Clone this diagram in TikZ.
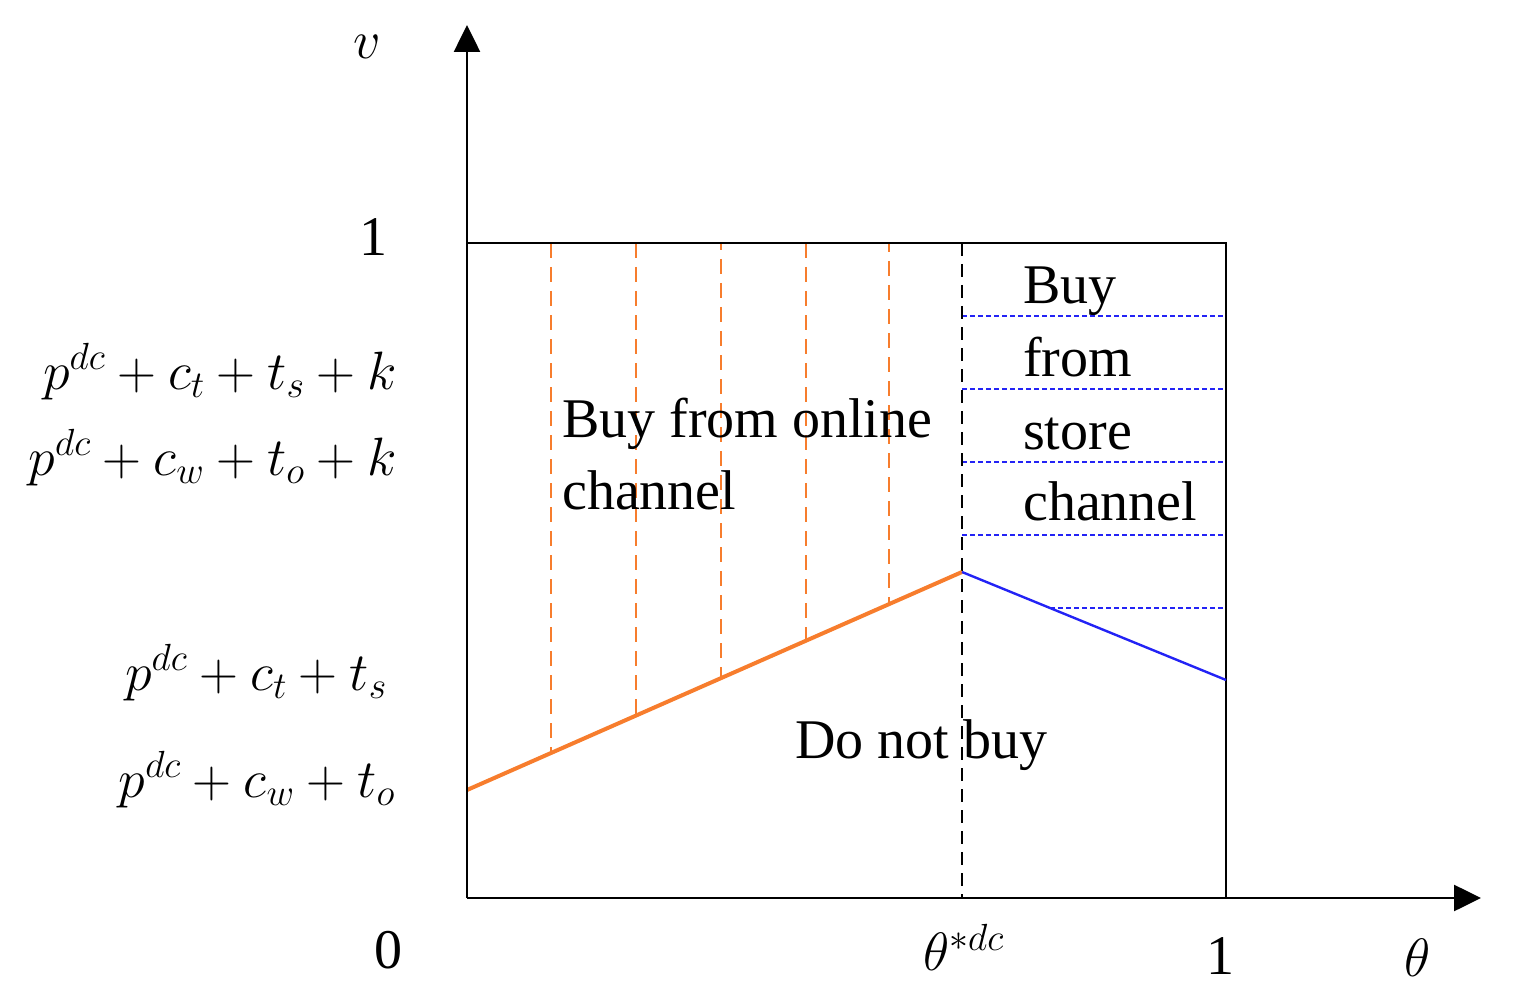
\RequirePackage{fix-cm}
\documentclass[tikz,border=0pt]{standalone}
\usepackage{fontspec}
\setmainfont{Liberation Serif}
\usetikzlibrary{arrows.meta}
\definecolor{org}{RGB}{247,125,45}
\definecolor{blu}{RGB}{35,35,245}
\tikzset{
  axis/.style={line width=2.6pt,-{Triangle[length=27pt,width=26pt]}},
  frame/.style={line width=2.2pt},
  blackdash/.style={line width=2.2pt,dash pattern=on 13pt off 8pt},
  orangedash/.style={org,line width=2.2pt,dash pattern=on 15pt off 9pt},
  bluedash/.style={blu,line width=2pt,dash pattern=on 5pt off 3pt},
  orangeline/.style={org,line width=4pt},
  blueline/.style={blu,line width=2.4pt},
  txt/.style={inner sep=0pt,font=\fontsize{56}{60}\selectfont},
  mth/.style={inner sep=0pt,font=\fontsize{54}{60}\selectfont},
}
\begin{document}
\begin{tikzpicture}[x=1pt,y=-1pt]
\useasboundingbox (0,0) rectangle (1519,1003);
% coordinates
\coordinate (O) at (467,898);
\coordinate (Ytip) at (467,25);
\coordinate (Xtip) at (1481,898);
\coordinate (TL) at (467,243);
\coordinate (TR) at (1226,243);
\coordinate (BR) at (1226,898);
\coordinate (Ts) at (962,243);
\coordinate (Bs) at (962,898);
\coordinate (A) at (467,790);
\coordinate (K) at (962,572);
\coordinate (E) at (1226,680);
% orange dashed verticals
\foreach \i/\x/\y/\ph in {1/551/753.0/0,2/636/715.6/0,3/721/678.1/-16,4/806/640.7/0,5/889/604.2/-18}{
  \coordinate (ot\i) at (\x,243);
  \coordinate (ob\i) at (\x,\y);
  \draw[orangedash,dash phase=\ph pt] (ot\i) -- (ob\i);
}
% blue dashed horizontals
\foreach \i/\y in {1/316,2/389,3/462,4/535}{
  \coordinate (bl\i) at (962,\y);
  \coordinate (br\i) at (1226,\y);
  \draw[bluedash] (bl\i) -- (br\i);
}
\coordinate (bl5) at (1050,608);
\coordinate (br5) at (1226,608);
\draw[bluedash] (bl5) -- (br5);
% frame
\draw[frame] (TL) -- (TR) -- (BR);
\draw[blackdash] (Ts) -- (Bs);
% curves
\draw[orangeline] (A) -- (K);
\draw[blueline] (K) -- (E);
% axes
\draw[axis] (O) -- (Ytip);
\draw[axis] (O) -- (Xtip);
% labels
\node[mth] (lv) at (367,47) {$v$};
\node[txt,anchor=base] (l1) at (373,256) {1};
\node[txt,anchor=base] (l0) at (388,968) {0};
\node[txt,anchor=base] (l1x) at (1220,974) {1};
\node[mth,anchor=base] (lth) at (1418,976) {$\theta$};
\node[mth,anchor=base west] (lts) at (923,970) {$\theta^{*dc}$};
\node[mth,anchor=base east] (la) at (397,389) {$p^{dc}+c_t+t_s+k$};
\node[mth,anchor=base east] (lb) at (397,475) {$p^{dc}+c_w+t_o+k$};
\node[mth,anchor=base east] (lc) at (387,690) {$p^{dc}+c_t+t_s$};
\node[mth,anchor=base east] (ld) at (395,797) {$p^{dc}+c_w+t_o$};
% region texts
\node[txt,anchor=base west] (on1) at (562,437) {Buy from online};
\node[txt,anchor=base west] (on2) at (562,509) {channel};
\node[txt,anchor=base west] (dn) at (795,758) {Do not buy};
\node[txt,anchor=base west] (s1) at (1023,304) {Buy};
\node[txt,anchor=base west] (s2) at (1023,376) {from};
\node[txt,anchor=base west] (s3) at (1023,449) {store};
\node[txt,anchor=base west] (s4) at (1023,520) {channel};
\end{tikzpicture}
\end{document}
